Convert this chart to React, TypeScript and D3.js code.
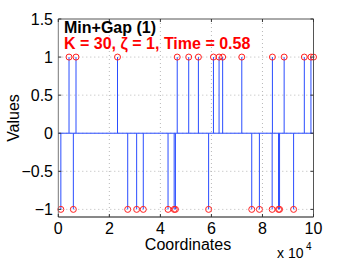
import React from "react";
import * as d3 from "d3";

const posCoords = [4200, 6940, 23200, 46600, 51100, 54900, 60800, 63000, 64400, 71900, 83900, 88500, 96400, 99000, 100000];
const negCoords = [1000, 5900, 27200, 30700, 33300, 43000, 45400, 45900, 58900, 75800, 78800, 83800, 86300, 86700, 92200];
const xTicks = [0, 20000, 40000, 60000, 80000, 100000];
const xTickLabels = ["0", "2", "4", "6", "8", "10"];
const yTicks = [-1, -0.5, 0, 0.5, 1, 1.5];
const yTickLabels = ["\u22121", "\u22120.5", "0", "0.5", "1", "1.5"];

const W = 346, H = 260;
const L = 58.3, R = 313.5, T = 19, B = 217;

export default function App() {
  const x = d3.scaleLinear().domain([0, 100000]).range([L, R]);
  const y = d3.scaleLinear().domain([-1.1, 1.5]).range([B, T]);
  const stems = [
    ...posCoords.map((c) => ({ c, v: 1 })),
    ...negCoords.map((c) => ({ c, v: -1 })),
  ].sort((a, b) => a.c - b.c);
  const font = "'Liberation Sans', Arial, Helvetica, sans-serif";
  return (
    <svg width={W} height={H} style={{ position: "absolute", left: 0, top: 0, background: "#fff" }} fontFamily={font}>
      <rect x={0} y={0} width={W} height={H} fill="#fff" />
      {xTicks.slice(1, -1).map((t) => (
        <line key={"gx" + t} x1={x(t)} x2={x(t)} y1={T} y2={B} stroke="#b8b8b8" strokeWidth={1} strokeDasharray="1,3" />
      ))}
      {yTicks.slice(0, -1).map((t) => (
        <line key={"gy" + t} x1={L} x2={R} y1={y(t)} y2={y(t)} stroke="#b8b8b8" strokeWidth={1} strokeDasharray="1,3" />
      ))}
      {stems.map((s, i) => (
        <line key={"s" + i} x1={x(s.c)} x2={x(s.c)} y1={y(0)} y2={y(s.v)} stroke="#2a4dff" strokeWidth={1} />
      ))}
      <line x1={L} x2={R} y1={y(0)} y2={y(0)} stroke="#2a4dff" strokeWidth={1} />
      {stems.map((s, i) => (
        <circle key={"c" + i} cx={x(s.c)} cy={y(s.v)} r={3} fill="none" stroke="#ff2020" strokeWidth={1} />
      ))}
      <line x1={L} x2={R} y1={T} y2={T} stroke="#555" strokeWidth={1} />
      <line x1={R} x2={R} y1={T} y2={B} stroke="#555" strokeWidth={1} />
      <line x1={L} x2={L} y1={T} y2={B} stroke="#777" strokeWidth={1} />
      <line x1={L} x2={R} y1={B} y2={B} stroke="#111" strokeWidth={1} />
      {xTicks.map((t) => (
        <g key={"tx" + t}>
          <line x1={x(t)} x2={x(t)} y1={B} y2={B - 3} stroke="#333" />
          <line x1={x(t)} x2={x(t)} y1={T} y2={T + 3} stroke="#333" />
        </g>
      ))}
      {yTicks.map((t) => (
        <g key={"ty" + t}>
          <line x1={L} x2={L + 3} y1={y(t)} y2={y(t)} stroke="#333" />
          <line x1={R} x2={R - 3} y1={y(t)} y2={y(t)} stroke="#333" />
        </g>
      ))}
      {xTicks.map((t, i) => (
        <text key={"lx" + t} x={x(t)} y={234} textAnchor="middle" fontSize={16} fill="#000">
          {xTickLabels[i]}
        </text>
      ))}
      {yTicks.map((t, i) => (
        <text key={"ly" + t} x={53} y={y(t) + 6} textAnchor="end" fontSize={16} fill="#000">
          {yTickLabels[i]}
        </text>
      ))}
      <text x={188} y={250} textAnchor="middle" fontSize={16} fill="#000">Coordinates</text>
      <text transform={`translate(19,${(T + B) / 2}) rotate(-90)`} textAnchor="middle" fontSize={16} fill="#000">Values</text>
      <text x={277} y={258} fontSize={14} fill="#000">x 10</text>
      <text x={306} y={250} fontSize={10} fill="#000">4</text>
      <text x={64} y={33} fontSize={16} fontWeight="bold" fill="#000">Min+Gap (1)</text>
      <text x={64} y={48.5} fontSize={16} fontWeight="bold" fill="#ff0000">K = 30, {"\u03B6"} = 1, Time = 0.58</text>
    </svg>
  );
}
